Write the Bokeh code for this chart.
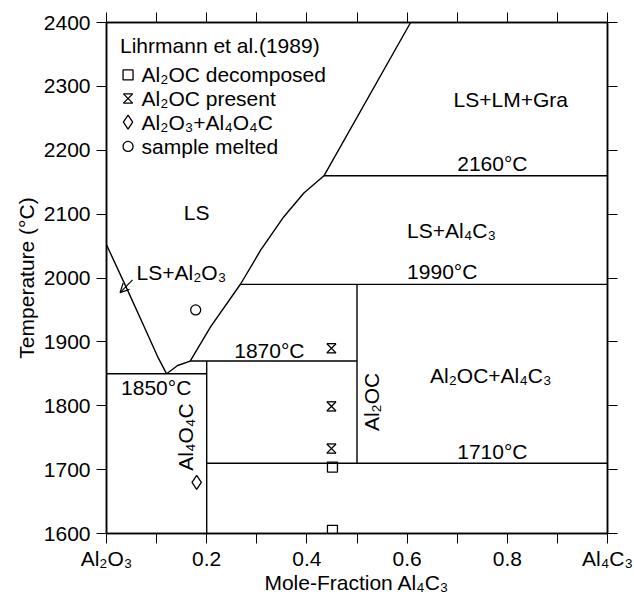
import math
from bokeh.plotting import figure
from bokeh.models import (Range1d, LinearAxis, FixedTicker, Arrow, OpenHead, Label,
                          ColumnDataSource)
from bokeh.embed import file_html
from bokeh.resources import INLINE

FONT = "Liberation Sans"

# ---- phase boundaries (mole fraction Al4C3, temperature C) ----
liq_left_x = [0.0, 0.042, 0.075, 0.102, 0.12]
liq_left_t = [2052, 1981, 1924, 1877, 1850]
eut_x = [0.12, 0.142, 0.167]
eut_t = [1850, 1863, 1870]
liq_right_x = [0.167, 0.208, 0.268, 0.308, 0.354, 0.394, 0.434, 0.607]
liq_right_t = [1870, 1924, 1991, 2044, 2096, 2133, 2160, 2400]

iso_t = [1850, 1870, 1990, 1710, 2160]
iso_x0 = [0.0, 0.167, 0.268, 0.2, 0.434]
iso_x1 = [0.2, 0.5, 1.0, 1.0, 1.0]

comp_x = [0.2, 0.5]          # Al4O4C, Al2OC
comp_t0 = [1600, 1710]
comp_t1 = [1870, 1990]

# ---- experimental points ----
decomp_x = [0.451, 0.451]
decomp_t = [1704, 1605]
present_x = [0.449, 0.449, 0.449]
present_t = [1890, 1799, 1733]
mix_x = [0.18]
mix_t = [1680]
melted_x = [0.178]
melted_t = [1950]

# ---- ticks ----
x_ticks = [0, 0.2, 0.4, 0.6, 0.8, 1.0]
x_minor = [0.1, 0.3, 0.5, 0.7, 0.9]
x_tick_labels = {0: "Al\u2082O\u2083", 1: "Al\u2084C\u2083"}
y_ticks = [1600, 1700, 1800, 1900, 2000, 2100, 2200, 2300, 2400]

X0, X1, T0, T1 = 0, 1, 1600, 2400
FW, FH = 501, 511
T_PER_PX = (T1 - T0) / FH
X_PER_PX = (X1 - X0) / FW

p = figure(frame_width=FW, frame_height=FH,
           x_range=Range1d(X0, X1), y_range=Range1d(T0, T1),
           output_backend="svg", toolbar_location=None,
           min_border_left=106, min_border_right=27,
           min_border_top=22, min_border_bottom=69)
p.grid.visible = False
p.outline_line_color = "black"
p.outline_line_width = 1.5

xt = FixedTicker(ticks=x_ticks, minor_ticks=x_minor)
yt = FixedTicker(ticks=y_ticks)

def style_axis(ax, ticker, show_labels=True):
    ax.ticker = ticker
    ax.axis_line_color = "black"
    ax.axis_line_width = 1.5
    ax.major_tick_line_color = "black"
    ax.minor_tick_line_color = "black"
    ax.major_tick_in = 0
    ax.minor_tick_in = 0
    ax.major_tick_out = 10
    ax.minor_tick_out = 10
    ax.major_label_text_font = FONT
    if show_labels:
        ax.major_label_text_color = "black"
        ax.major_label_text_font_size = "21px"
    else:
        ax.major_label_text_color = None
        ax.major_label_text_font_size = "2px"
        ax.major_label_standoff = 0

style_axis(p.xaxis[0], xt)
p.xaxis[0].major_label_overrides = x_tick_labels
p.xaxis[0].major_label_standoff = 3
p.xaxis[0].axis_label = "Mole-Fraction Al\u2084C\u2083"
p.xaxis[0].axis_label_text_font = FONT
p.xaxis[0].axis_label_text_font_size = "21px"
p.xaxis[0].axis_label_text_font_style = "normal"
p.xaxis[0].axis_label_text_color = "black"
p.xaxis[0].axis_label_standoff = -2

style_axis(p.yaxis[0], yt)
p.yaxis[0].minor_tick_out = 0
p.yaxis[0].major_label_standoff = 6
p.yaxis[0].axis_label = "Temperature (\u00b0C)"
p.yaxis[0].axis_label_text_font = FONT
p.yaxis[0].axis_label_text_font_size = "21px"
p.yaxis[0].axis_label_text_font_style = "normal"
p.yaxis[0].axis_label_text_color = "black"
p.yaxis[0].axis_label_standoff = 3

top = LinearAxis()
style_axis(top, xt, show_labels=False)
p.add_layout(top, "above")
right = LinearAxis()
style_axis(right, yt, show_labels=False)
right.minor_tick_out = 0
p.add_layout(right, "right")

# explicit outward tick marks on all four sides (drawn as head-less arrows)
TICK = 10
all_x = sorted(x_ticks + x_minor)
dt = TICK * T_PER_PX
dx = TICK * X_PER_PX
xs0 = all_x + all_x + [X0] * len(y_ticks) + [X1] * len(y_ticks)
xs1 = all_x + all_x + [X0 - dx] * len(y_ticks) + [X1 + dx] * len(y_ticks)
ys0 = [T0] * len(all_x) + [T1] * len(all_x) + y_ticks + y_ticks
ys1 = [T0 - dt] * len(all_x) + [T1 + dt] * len(all_x) + y_ticks + y_ticks
tick_src = ColumnDataSource(dict(x0=xs0, y0=ys0, x1=xs1, y1=ys1))
p.add_layout(Arrow(start=None, end=None, source=tick_src,
                   x_start="x0", y_start="y0", x_end="x1", y_end="y1",
                   line_color="black", line_width=1.3))

LW = 1.4
p.line(liq_left_x, liq_left_t, line_color="black", line_width=LW)
p.line(eut_x, eut_t, line_color="black", line_width=LW)
p.line(liq_right_x, liq_right_t, line_color="black", line_width=LW)
p.segment(x0=iso_x0, y0=iso_t, x1=iso_x1, y1=iso_t, line_color="black", line_width=LW)
p.segment(x0=comp_x, y0=comp_t0, x1=comp_x, y1=comp_t1, line_color="black", line_width=LW)

# ---- markers ----
MS = dict(line_color="black", fill_color=None, line_width=1.3)

def hourglass(xs, ts):
    d = 4.6 * T_PER_PX
    p.scatter(xs, ts, marker="x", size=13, **MS)
    p.scatter(xs, [t + d for t in ts], marker="dash", size=9.2, **MS)
    p.scatter(xs, [t - d for t in ts], marker="dash", size=9.2, **MS)

p.scatter(decomp_x, decomp_t, marker="square", size=10, **MS)
hourglass(present_x, present_t)
p.scatter(mix_x, mix_t, marker="diamond", size=14, **MS)
p.scatter(melted_x, melted_t, marker="circle", size=10, **MS)

# ---- legend (hand made, as in the original) ----
lx, tx = 0.043, 0.07
leg_t = [2318, 2281, 2244, 2206]
p.scatter([lx], [leg_t[0]], marker="square", size=10, **MS)
hourglass([lx], [leg_t[1]])
p.scatter([lx], [leg_t[2]], marker="diamond", size=14, **MS)
p.scatter([lx], [leg_t[3]], marker="circle", size=10, **MS)

def lab(x, y, text, align="left", angle=0.0, size="21px"):
    p.add_layout(Label(x=x, y=y, text=text, text_font=FONT, text_font_size=size,
                       text_align=align, text_baseline="middle", angle=angle,
                       text_color="black"))

lab(0.027, 2364, "Lihrmann et al.(1989)")
lab(tx, leg_t[0], "Al\u2082OC decomposed")
lab(tx, leg_t[1], "Al\u2082OC present")
lab(tx, leg_t[2], "Al\u2082O\u2083+Al\u2084O\u2084C")
lab(tx, leg_t[3], "sample melted")

# ---- region / isotherm labels ----
lab(0.18, 2102, "LS", align="center")
lab(0.06, 2008, "LS+Al\u2082O\u2083")
lab(0.807, 2279, "LS+LM+Gra", align="center")
lab(0.70, 2180, "2160\u00b0C")
lab(0.60, 2075, "LS+Al\u2084C\u2083")
lab(0.60, 2010, "1990\u00b0C")
lab(0.255, 1887, "1870\u00b0C")
lab(0.029, 1829, "1850\u00b0C")
lab(0.767, 1848, "Al\u2082OC+Al\u2084C\u2083", align="center")
lab(0.70, 1729, "1710\u00b0C")
lab(0.158, 1751, "Al\u2084O\u2084C", align="center", angle=math.pi / 2)
lab(0.528, 1806, "Al\u2082OC", align="center", angle=math.pi / 2)

p.add_layout(Arrow(end=OpenHead(size=9, line_width=1.2, line_color="black"),
                   x_start=0.052, y_start=1997, x_end=0.027, y_end=1977,
                   line_color="black", line_width=1.2))

open("out.html", "w").write(file_html(p, INLINE))
